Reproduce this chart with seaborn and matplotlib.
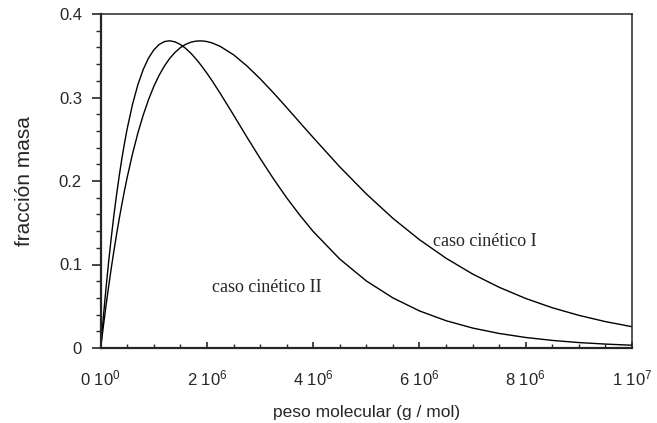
import numpy as np
import pandas as pd
import matplotlib
matplotlib.use("Agg")
import matplotlib.pyplot as plt
import seaborn as sns
from matplotlib.ticker import MultipleLocator, FixedLocator

# Data (x in units of 1e6 g/mol)
x_m = [0, 0.025, 0.05, 0.1, 0.15, 0.2, 0.25, 0.3, 0.35, 0.4, 0.45, 0.5, 0.6, 0.7, 0.8,
       0.9, 1.0, 1.1, 1.2, 1.3, 1.4, 1.5, 1.6, 1.7, 1.8, 1.9, 2.0, 2.1, 2.25, 2.5,
       2.75, 3.0, 3.25, 3.5, 3.75, 4.0, 4.5, 5.0, 5.5, 6.0, 6.5, 7.0, 7.5, 8.0, 8.5,
       9.0, 9.5, 10.0]
caso_I = [0.0, 0.0132, 0.0260, 0.0507, 0.0740, 0.0961, 0.1170, 0.1366, 0.1552, 0.1727,
          0.1892, 0.2047, 0.2328, 0.2575, 0.2789, 0.2974, 0.3133, 0.3267, 0.3378, 0.3469,
          0.3541, 0.3597, 0.3637, 0.3663, 0.3676, 0.3678, 0.3670, 0.3653, 0.3612, 0.3512,
          0.3379, 0.3225, 0.3057, 0.2880, 0.2699, 0.2520, 0.2169, 0.1845, 0.1553, 0.1297,
          0.1075, 0.0886, 0.0727, 0.0593, 0.0482, 0.0391, 0.0316, 0.0255]
caso_II = [0.0, 0.0190, 0.0373, 0.0717, 0.1035, 0.1328, 0.1597, 0.1843, 0.2068, 0.2274,
           0.2461, 0.2631, 0.2921, 0.3154, 0.3335, 0.3472, 0.3570, 0.3635, 0.3670, 0.3679,
           0.3666, 0.3635, 0.3588, 0.3528, 0.3457, 0.3377, 0.3290, 0.3197, 0.3049, 0.2791,
           0.2528, 0.2272, 0.2028, 0.1799, 0.1589, 0.1395, 0.1065, 0.0803, 0.0600, 0.0444,
           0.0327, 0.0239, 0.0174, 0.0126, 0.0091, 0.0065, 0.0047, 0.0033]
x_ticks = [0, 2e6, 4e6, 6e6, 8e6, 1e7]
x_tick_labels = [r"0 10$^{0}$", r"2 10$^{6}$", r"4 10$^{6}$", r"6 10$^{6}$", r"8 10$^{6}$", r"1 10$^{7}$"]
y_ticks = [0, 0.1, 0.2, 0.3, 0.4]
y_tick_labels = ["0", "0.1", "0.2", "0.3", "0.4"]

x_vals = [v * 1e6 for v in x_m]
df = pd.DataFrame({
    "M": x_vals * 2,
    "w": caso_I + caso_II,
    "serie": ["caso cinético I"] * len(x_vals) + ["caso cinético II"] * len(x_vals),
})

sns.set_style("ticks")
plt.rcParams["font.family"] = ["Liberation Sans", "DejaVu Sans"]
plt.rcParams["mathtext.fontset"] = "custom"
plt.rcParams["mathtext.rm"] = "Liberation Sans"
plt.rcParams["mathtext.it"] = "Liberation Sans"

fig = plt.figure(figsize=(6.57, 4.23), dpi=100)
ax = fig.add_axes([100.7 / 657, 1 - 348 / 423, (632 - 100.7) / 657, (348 - 14) / 423])

sns.lineplot(data=df, x="M", y="w", hue="serie", palette=["black", "black"],
             linewidth=1.0, legend=False, ax=ax, estimator=None, sort=False)

ax.set_xlim(0, 1e7)
ax.set_ylim(0, 0.4)
ax.xaxis.set_major_locator(FixedLocator(x_ticks))
ax.set_xticklabels(x_tick_labels, fontsize=12)
ax.xaxis.set_minor_locator(MultipleLocator(5e5))
ax.yaxis.set_major_locator(FixedLocator(y_ticks))
ax.set_yticklabels(y_tick_labels, fontsize=12)
ax.yaxis.set_minor_locator(MultipleLocator(0.02))

ax.tick_params(axis="x", which="major", direction="in", length=4.5, width=1.2, pad=15)
ax.tick_params(axis="x", which="minor", direction="in", length=3, width=1.0)
ax.tick_params(axis="y", which="major", direction="out", length=6.5, width=1.2, pad=7)
ax.tick_params(axis="y", which="minor", direction="out", length=3.6, width=1.0)

for s in ["left", "bottom"]:
    ax.spines[s].set_linewidth(1.6)
for s in ["top", "right"]:
    ax.spines[s].set_visible(True)
    ax.spines[s].set_linewidth(1.1)

ax.set_xlabel("peso molecular (g / mol)", fontsize=12.5, labelpad=12)
ax.set_ylabel("fracción masa", fontsize=15, labelpad=18)

ax.text(6.25e6, 0.127, "caso cinético I", family="Liberation Serif", fontsize=13,
        ha="left", va="center")
ax.text(2.1e6, 0.073, "caso cinético II", family="Liberation Serif", fontsize=13,
        ha="left", va="center")

fig.savefig("out.png", dpi=100)
